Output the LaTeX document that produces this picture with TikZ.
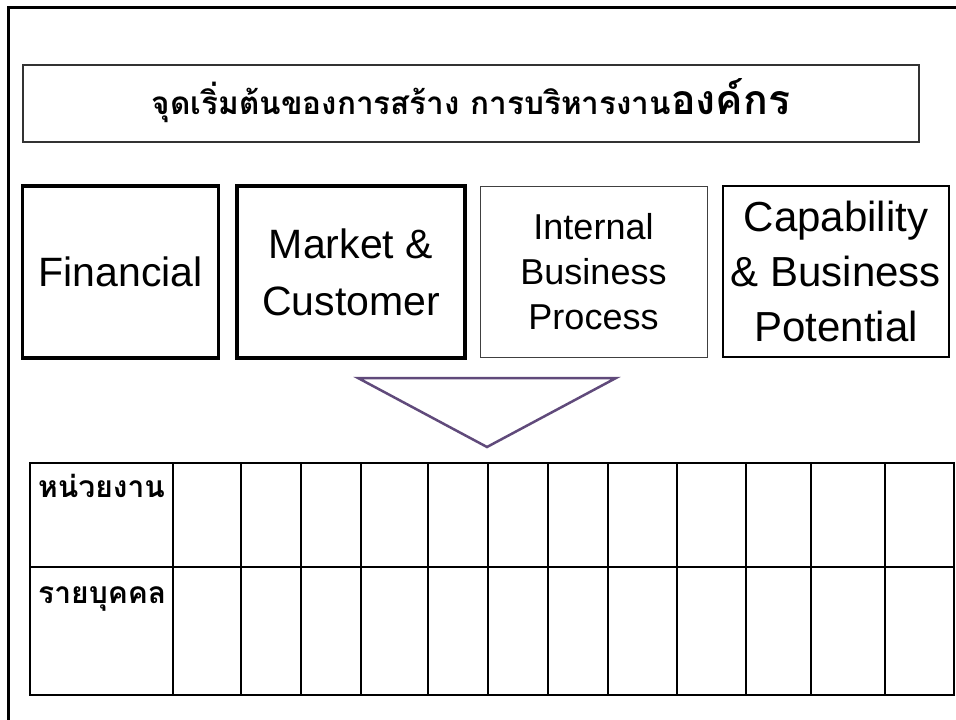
\documentclass[tikz,border=0pt]{standalone}
\usepackage{fontspec}
\setmainfont{Liberation Sans}
\newfontfamily\thaifont[Script=Thai]{Loma}
\definecolor{tripurple}{RGB}{96,74,123}
\begin{document}
\begin{tikzpicture}[x=1pt,y=-1pt,
  box/.style={draw=black,rectangle,inner sep=0pt,align=center,font=\fontsize{41}{57}\selectfont},
  heavybox/.style={box,line width=3.5pt},
  thinbox/.style={box,draw=black!75,line width=1pt},
  midbox/.style={box,line width=2pt},
  gridline/.style={line width=2pt,black},
  celllabel/.style={anchor=base west,inner sep=0pt,font=\thaifont\bfseries\fontsize{30}{34}\selectfont}
]
\useasboundingbox (0,0) rectangle (956,720);
% outer frame
\draw[line width=3pt] (8,720) -- (8,7) -- (956,7);
% title
\node[draw=black!80,line width=1.3pt,rectangle,inner sep=0pt,minimum width=896pt,minimum height=77pt] (title) at (471,103.5) {};
\node[anchor=base,inner sep=0pt,font=\thaifont\bfseries\fontsize{31.5}{36}\selectfont] (titletext) at (471,114)
  {จุดเริ่มต้นของการสร้าง การบริหารงาน{\fontsize{41}{46}\selectfont องค์กร}};
% perspective boxes
\node[heavybox,minimum width=196pt,minimum height=172pt] (fin) at (120.5,272) {Financial};
\node[heavybox,minimum width=228pt,minimum height=172pt] (mkt) at (351,272) {Market \&\\Customer};
\node[thinbox,minimum width=227pt,minimum height=171pt,font=\fontsize{36}{45}\selectfont] (ibp) at (593.5,271.5) {Internal\\Business\\Process};
\node[midbox,minimum width=226pt,minimum height=171pt,font=\fontsize{42}{55}\selectfont] (cap) at (836,271.5) {Capability\\\& Business\\Potential};
% triangle
\coordinate (tl) at (358,378);
\coordinate (tr) at (616,378);
\coordinate (tb) at (487,447);
\draw[tripurple,line width=2.5pt,line join=miter] (tl) -- (tr) -- (tb) -- cycle;
% table
\draw[gridline] (30,463) rectangle (954,695);
\draw[gridline] (30,567) -- (954,567);
\foreach \xx in {173,241,301,361,428,488,548,608,677,746,811,885}
  \draw[gridline] (\xx,463) -- (\xx,695);
\node[celllabel] (unit) at (38,497) {หน่วยงาน};
\node[celllabel] (person) at (38,603) {รายบุคคล};
\end{tikzpicture}
\end{document}
